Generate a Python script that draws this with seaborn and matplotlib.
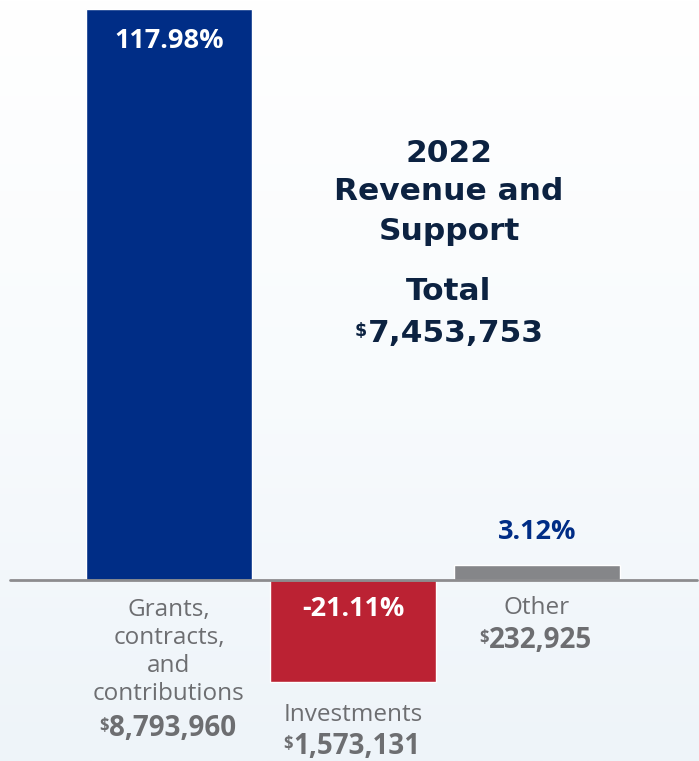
import numpy as np
import pandas as pd
import matplotlib
matplotlib.use("Agg")
import matplotlib.pyplot as plt
import seaborn as sns
from matplotlib.colors import LinearSegmentedColormap

# data
categories = ["Grants,\ncontracts,\nand\ncontributions", "Investments", "Other"]
percentages = [117.98, -21.11, 3.12]
pct_labels = ["117.98%", "-21.11%", "3.12%"]
amounts = ["8,793,960", "1,573,131", "232,925"]
bar_colors = ["#002d86", "#bb2233", "#858689"]
title_lines = ["2022", "Revenue and", "Support"]
total_label = "Total"
total_amount = "7,453,753"

W, H = 699, 761
NAVY_TXT = "#0c2241"
GREY_TXT = "#6d6e71"

df = pd.DataFrame({"cat": categories, "pct": percentages})

sns.set_theme(style="white")
plt.rcParams["font.family"] = ["Open Sans", "DejaVu Sans"]

fig = plt.figure(figsize=(W / 100, H / 100), dpi=100)
ax = fig.add_axes([0, 0, 1, 1])

# background gradient, white at top to pale blue at bottom
grad = LinearSegmentedColormap.from_list("bg", ["#ffffff", "#f8fbfd", "#eef4f9"])
ax.imshow(np.linspace(0, 1, 256).reshape(-1, 1), cmap=grad, aspect="auto",
          extent=[0, 1, 0, 1], transform=ax.transAxes, zorder=0)

sns.barplot(data=df, x="cat", y="pct", hue="cat", palette=bar_colors,
            width=0.9, saturation=1, legend=False, ax=ax, zorder=2)

# scale: 184 px per category step, bar 0 centred at px 169, baseline at px 580
px_per_unit = (580 - 9) / percentages[0]
ax.set_xlim(-169 / 184, (W - 169) / 184)
ax.set_ylim(-(H - 580) / px_per_unit, 580 / px_per_unit)
ax.axhline(0, xmin=10 / W, xmax=697 / W, color="#8c8c8e", lw=2, zorder=3)
ax.set_axis_off()


def ptext(px, py, s, **kw):
    return fig.text(px / W, 1 - py / H, s, ha="center", va="center", **kw)


# percentage labels
centers = [169, 353, 537]
pct_y = [41, 609, 532]
pct_col = ["white", "white", "#002d86"]
for cx, py, s, c in zip(centers, pct_y, pct_labels, pct_col):
    ptext(cx, py, s, color=c, fontsize=19.5, fontweight="bold", zorder=5)

# category names
name_y = [652, 715, 608]
for cx, py, s in zip(centers, name_y, categories):
    ptext(cx, py, s, color=GREY_TXT, fontsize=17.5, linespacing=1.22)

# amounts with superscript dollar sign
amt_y = [729, 747, 640]
amt_texts = []
for cx, py, s in zip(centers, amt_y, amounts):
    amt_texts.append(ptext(cx + 4, py, s, color=GREY_TXT, fontsize=20, fontweight="bold"))

# title block
title_y = [153, 191, 231]
for py, s in zip(title_y, title_lines):
    ptext(449, py, s, color=NAVY_TXT, fontsize=22.5, fontweight="bold",
          family="DejaVu Sans")
ptext(449, 291, total_label, color=NAVY_TXT, fontsize=22.5, fontweight="bold",
      family="DejaVu Sans")
tot = ptext(456, 333, total_amount, color=NAVY_TXT, fontsize=22.5, fontweight="bold",
            family="DejaVu Sans")

fig.canvas.draw()
r = fig.canvas.get_renderer()
inv = fig.transFigure.inverted()
for t, fs, col, fam in [(a, 12, GREY_TXT, "Open Sans") for a in amt_texts] + \
                       [(tot, 12.5, NAVY_TXT, "DejaVu Sans")]:
    bb = t.get_window_extent(r)
    x0, y1 = inv.transform((bb.x0 - 1, bb.y1 - 3))
    fig.text(x0, y1, "\\$", ha="right", va="top", fontsize=fs, color=col,
             fontweight="bold", family=fam)

fig.savefig("out.png", dpi=100)
